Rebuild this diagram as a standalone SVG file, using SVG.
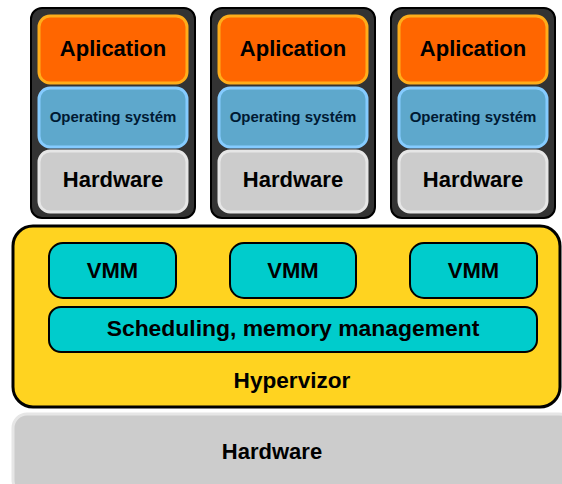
<svg xmlns="http://www.w3.org/2000/svg" width="562" height="484" viewBox="0 0 562 484">
<style>
text{font-family:"Liberation Sans",Arial,sans-serif;font-weight:bold;text-anchor:middle;fill:#000}
.frame{fill:#333;stroke:#000;stroke-width:2}
.app{fill:#ff6600;stroke:#ffad1a;stroke-width:3}
.os{fill:#5ea8cc;stroke:#85cbff;stroke-width:3}
.hw{fill:#cccccc;stroke:#e6e6e6;stroke-width:3}
.vmm{fill:#00cccc;stroke:#000;stroke-width:2}
.t22{font-size:22px}
.t15{font-size:15px;fill:#001a33}
</style>
<rect width="562" height="484" fill="#fff"/>
<g id="hardware-base">
<rect class="hw" x="13" y="414" width="560" height="80" rx="14" stroke-width="4"/>
<text class="t22" x="272" y="459" font-size="21">Hardware</text>
</g>
<g id="hypervizor">
<rect x="13" y="226" width="547" height="181" rx="20" fill="#ffd320" stroke="#000" stroke-width="3"/>
<text x="292" y="388" font-size="22.6">Hypervizor</text>
</g>
<g id="vmm1"><rect class="vmm" x="49" y="243" width="127" height="55" rx="14"/><text class="t22" x="112.5" y="278">VMM</text></g>
<g id="vmm2"><rect class="vmm" x="230" y="243" width="126" height="55" rx="14"/><text class="t22" x="293" y="278">VMM</text></g>
<g id="vmm3"><rect class="vmm" x="410" y="243" width="127" height="55" rx="14"/><text class="t22" x="473.5" y="278">VMM</text></g>
<g id="scheduling"><rect class="vmm" x="49" y="307" width="488" height="45" rx="12"/><text x="293" y="336" font-size="22.9">Scheduling, memory management</text></g>
<g id="vm1">
<rect class="frame" x="31" y="8" width="164" height="210" rx="11"/>
<rect class="app" x="39" y="16" width="148" height="67" rx="11"/>
<text class="t22" x="113" y="56">Aplication</text>
<rect class="os" x="39" y="88" width="148" height="59" rx="11"/>
<text class="t15" x="113" y="122">Operating systém</text>
<rect class="hw" x="39" y="151" width="148" height="61" rx="11"/>
<text class="t22" x="113" y="187">Hardware</text>
</g>
<g id="vm2">
<rect class="frame" x="211" y="8" width="164" height="210" rx="11"/>
<rect class="app" x="219" y="16" width="148" height="67" rx="11"/>
<text class="t22" x="293" y="56">Aplication</text>
<rect class="os" x="219" y="88" width="148" height="59" rx="11"/>
<text class="t15" x="293" y="122">Operating systém</text>
<rect class="hw" x="219" y="151" width="148" height="61" rx="11"/>
<text class="t22" x="293" y="187">Hardware</text>
</g>
<g id="vm3">
<rect class="frame" x="391" y="8" width="164" height="210" rx="11"/>
<rect class="app" x="399" y="16" width="148" height="67" rx="11"/>
<text class="t22" x="473" y="56">Aplication</text>
<rect class="os" x="399" y="88" width="148" height="59" rx="11"/>
<text class="t15" x="473" y="122">Operating systém</text>
<rect class="hw" x="399" y="151" width="148" height="61" rx="11"/>
<text class="t22" x="473" y="187">Hardware</text>
</g>
<g id="connectors"></g>
</svg>
